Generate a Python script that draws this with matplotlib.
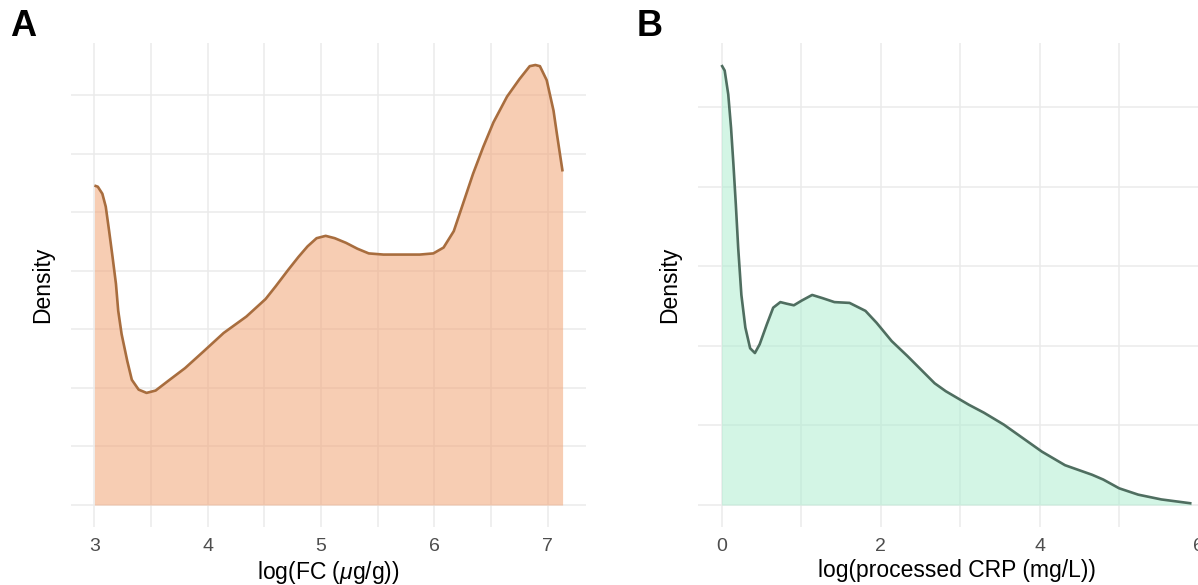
""" Density plots of log(FC) and log(processed CRP), panels A and B.
"""
import matplotlib
matplotlib.use("Agg")
from matplotlib import pyplot as plt

# Panel A: density of log(FC)
fc_x = [3.0, 3.03, 3.07, 3.10, 3.13, 3.16, 3.19, 3.21, 3.24, 3.29, 3.33,
        3.39, 3.46, 3.54, 3.65, 3.80, 3.96, 4.14, 4.34, 4.51, 4.60, 4.71,
        4.80, 4.88, 4.96, 5.04, 5.12, 5.22, 5.32, 5.42, 5.55, 5.69, 5.87,
        5.99, 6.08, 6.17, 6.25, 6.34, 6.43, 6.52, 6.64, 6.75, 6.84, 6.89,
        6.93, 6.99, 7.05, 7.08, 7.13]
fc_y = [0.273, 0.272, 0.266, 0.255, 0.234, 0.212, 0.189, 0.166, 0.146,
        0.123, 0.107, 0.0986, 0.0958, 0.0978, 0.106, 0.117, 0.131, 0.147,
        0.161, 0.176, 0.187, 0.201, 0.212, 0.221, 0.228, 0.230, 0.228,
        0.224, 0.219, 0.215, 0.214, 0.214, 0.214, 0.215, 0.220, 0.234,
        0.257, 0.283, 0.306, 0.327, 0.349, 0.364, 0.375, 0.376, 0.375,
        0.363, 0.337, 0.317, 0.285]

# Panel B: density of log(processed CRP)
crp_x = [0.0, 0.04, 0.085, 0.12, 0.15, 0.18, 0.21, 0.25, 0.30, 0.36, 0.42,
         0.48, 0.57, 0.65, 0.74, 0.82, 0.91, 1.01, 1.14, 1.27, 1.42, 1.61,
         1.81, 1.95, 2.14, 2.34, 2.53, 2.68, 2.82, 3.11, 3.30, 3.55, 3.79,
         4.03, 4.32, 4.66, 4.80, 5.00, 5.24, 5.53, 5.91]
crp_y = [0.553, 0.546, 0.516, 0.474, 0.428, 0.378, 0.323, 0.264, 0.223,
         0.197, 0.191, 0.202, 0.227, 0.248, 0.255, 0.253, 0.251, 0.257,
         0.264, 0.260, 0.255, 0.254, 0.244, 0.229, 0.206, 0.187, 0.168,
         0.153, 0.143, 0.126, 0.116, 0.101, 0.084, 0.067, 0.050, 0.038,
         0.032, 0.021, 0.013, 0.007, 0.002]

fc_ticks = [3, 4, 5, 6, 7]
crp_ticks = [0, 2, 4, 6]

GRID = "#ebebeb"


def density_panel(ax, x, y, fill, line, xticks, xgrid, ygrid, xlabel):
    """ Draw one ggplot-like density panel (theme_minimal look).
    """
    lo, hi = min(x), max(x)
    pad = 0.05 * (hi - lo)
    top = max(y)

    for g in xgrid:
        ax.axvline(g, color=GRID, lw=1.1, zorder=0)
    for g in ygrid:
        ax.axhline(g, color=GRID, lw=1.1, zorder=0)

    # semi transparent fill so the grid shows through, outline on top only
    ax.fill_between(x, 0, y, color=fill, alpha=0.55, lw=0, zorder=1)
    ax.plot(x, y, color=line, lw=1.9, zorder=2, solid_capstyle="butt",
            solid_joinstyle="round")

    ax.set_xlim(lo - pad, hi + pad)
    ax.set_ylim(-0.05 * top, 1.05 * top)
    ax.set_xticks(xticks)
    ax.set_xticklabels([str(t) for t in xticks])
    ax.set_yticks([])
    ax.tick_params(axis="x", length=0, pad=8, labelsize=14,
                   labelcolor="#4d4d4d")
    for s in ax.spines.values():
        s.set_visible(False)
    ax.set_xlabel(xlabel, fontsize=16.5, labelpad=3)
    ax.set_ylabel("Density", fontsize=16.5, labelpad=12)


def run():
    plt.rcParams["font.family"] = ["Liberation Sans", "DejaVu Sans"]
    plt.rcParams["mathtext.fontset"] = "custom"
    plt.rcParams["mathtext.rm"] = "Liberation Sans"
    plt.rcParams["mathtext.it"] = "Liberation Sans:italic"

    fig = plt.figure(figsize=(11.98, 5.85), dpi=100)
    W, H = 1198.0, 585.0

    # Axes placed in pixels of the reference (panel B runs past the right edge)
    ax_a = fig.add_axes([71 / W, (H - 527) / H, 515 / W, 484 / H])
    ax_b = fig.add_axes([698 / W, (H - 527) / H, 517 / W, 484 / H])

    density_panel(ax_a, fc_x, fc_y, "#f2a475", "#a86d3e", fc_ticks,
                  [3 + 0.5 * i for i in range(9)],
                  [0.05 * i for i in range(8)],
                  r"log(FC ($\mu$g/g))")
    density_panel(ax_b, crp_x, crp_y, "#afedd0", "#4f6e60", crp_ticks,
                  list(range(7)),
                  [0.1 * i for i in range(6)],
                  "log(processed CRP (mg/L))")

    fig.text(10 / W, 1 - 9 / H, "A", fontsize=26, fontweight="bold",
             va="top", ha="left")
    fig.text(637 / W, 1 - 9 / H, "B", fontsize=26, fontweight="bold",
             va="top", ha="left")

    fig.savefig("out.png", dpi=100)


run()
